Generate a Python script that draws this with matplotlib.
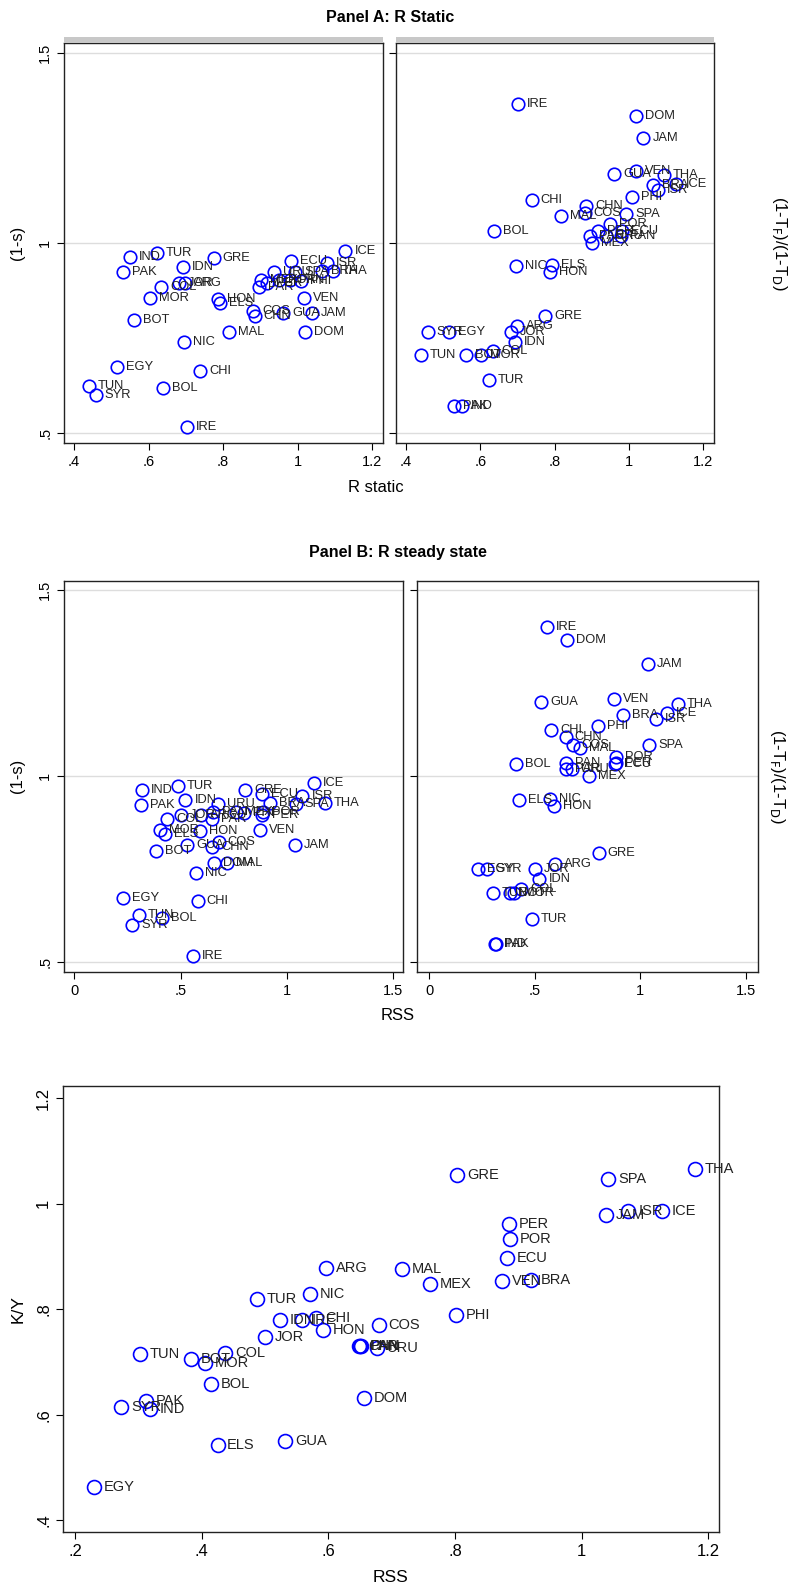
import matplotlib
matplotlib.use("Agg")
import matplotlib.pyplot as plt
from matplotlib.patches import Rectangle

plt.rcParams['font.family'] = ['Liberation Sans', 'DejaVu Sans']

countries = ["ARG","BOL","BOT","BRA","CHI","CHN","COL","COS","DOM","ECU","EGY","ELS","GRE",
             "GUA","HON","ICE","IDN","IND","IRE","ISR","JAM","JOR","MAL","MEX","MOR","NIC",
             "PAK","PAN","PAR","PER","PHI","POR","SPA","SYR","THA","TUN","TUR","URU","VEN"]
r_static = [.698,.638,.562,1.065,.738,.885,.633,.881,1.020,.981,.516,.792,.775,
            .961,.787,1.128,.692,.551,.702,1.078,1.039,.682,.817,.901,.603,.695,
            .530,.979,.896,.918,1.008,.949,.993,.458,1.094,.440,.622,.937,1.018]
one_minus_s = [.896,.619,.798,.927,.663,.809,.885,.822,.766,.952,.673,.843,.961,
               .815,.852,.980,.936,.963,.516,.947,.815,.896,.766,.903,.856,.740,
               .923,.903,.883,.896,.901,.904,.925,.599,.926,.625,.974,.925,.856]
tax_static = [.781,1.031,.706,1.152,1.114,1.096,.715,1.079,1.333,1.031,.766,.941,.807,
              1.182,.925,1.156,.739,.571,1.365,1.140,1.275,.767,1.070,1.0,.706,.940,
              .571,1.018,1.018,1.032,1.121,1.049,1.077,.766,1.178,.706,.639,1.018,1.189]
rss = [.596,.414,.383,.920,.580,.648,.437,.680,.656,.882,.230,.425,.804,
       .532,.591,1.127,.523,.319,.558,1.074,1.038,.500,.717,.760,.405,.571,
       .312,.651,.650,.886,.801,.887,1.042,.273,1.179,.303,.488,.677,.875]
tax_ss = [.763,1.032,.686,1.165,1.124,1.104,.697,1.082,1.365,1.032,.751,.935,.793,
          1.200,.919,1.169,.722,.547,1.400,1.154,1.300,.751,1.074,1.0,.686,.937,
          .547,1.034,1.018,1.034,1.133,1.052,1.083,.751,1.194,.686,.616,1.018,1.206]
k_y = [.878,.659,.705,.856,.784,.731,.717,.771,.632,.897,.464,.542,1.054,
       .551,.761,.987,.780,.611,.780,.987,.979,.748,.876,.847,.699,.829,
       .627,.731,.731,.962,.789,.934,1.046,.614,1.066,.715,.819,.726,.853]

W, H = 793, 1589
fig = plt.figure(figsize=(W/100, H/100), dpi=100)

def ax_px(l, t, r, b):
    return fig.add_axes([l/W, 1-b/H, (r-l)/W, (b-t)/H])

def scatter(ax, x, y, ms=9, fs=9.3, off=6.5):
    ax.plot(x, y, 'o', ms=ms, mfc='none', mec='blue', mew=1.2, ls='none', zorder=3)
    for xi, yi, c in zip(x, y, countries):
        ax.annotate(c, (xi, yi), xytext=(off, 0), textcoords='offset points',
                    va='center', ha='left', fontsize=fs, color='#222222', zorder=4)

def style(ax, xlim, ylim, xt, xtl, yt, ytl, grid=True, ylabels=True, fs=10.5):
    ax.set_xlim(*xlim); ax.set_ylim(*ylim)
    ax.set_xticks(xt); ax.set_xticklabels(xtl, fontsize=fs)
    ax.set_yticks(yt)
    if ylabels:
        ax.set_yticklabels(ytl, fontsize=fs, rotation=90, va='center')
    else:
        ax.set_yticklabels([])
        ax.tick_params(axis='y', length=0)
    if grid:
        for v in yt:
            ax.axhline(v, color='#dddddd', lw=1, zorder=1)
    for s in ax.spines.values():
        s.set_linewidth(1.0); s.set_color('#222222')
    ax.tick_params(length=5, width=0.8)

# Panel A
a1 = ax_px(64, 43, 383, 443)
a2 = ax_px(396, 43, 714, 443)
scatter(a1, r_static, one_minus_s)
scatter(a2, r_static, tax_static)
for ax, lab in ((a1, True), (a2, False)):
    style(ax, (.373, 1.229), (.474, 1.526), [.4, .6, .8, 1, 1.2], ['.4', '.6', '.8', '1', '1.2'],
          [.5, 1, 1.5], ['.5', '1', '1.5'], ylabels=lab)
for l, r in ((64, 383), (396, 714)):
    fig.patches.append(Rectangle((l/W, 1-43/H), (r-l)/W, 6/H, transform=fig.transFigure,
                                 facecolor='#c8c8c8', edgecolor='none'))
fig.text(390/W, 1-18/H, 'Panel A: R Static', ha='center', va='center', fontsize=11.5, fontweight='bold')
fig.text(376/W, 1-487/H, 'R static', ha='center', va='center', fontsize=12)
fig.text(18/W, 1-243/H, '(1-s)', ha='center', va='center', fontsize=12, rotation=90)
fig.text(780/W, 1-243/H, r'(1-T$_\mathrm{F}$)/(1-T$_\mathrm{D}$)', ha='center', va='center',
         fontsize=12, rotation=-90)

# Panel B
b1 = ax_px(64, 581, 403, 972)
b2 = ax_px(417, 581, 758, 972)
scatter(b1, rss, one_minus_s)
scatter(b2, rss, tax_ss)
style(b1, (-.049, 1.548), (.473, 1.524), [0, .5, 1, 1.5], ['0', '.5', '1', '1.5'],
      [.5, 1, 1.5], ['.5', '1', '1.5'])
style(b2, (-.057, 1.559), (.473, 1.524), [0, .5, 1, 1.5], ['0', '.5', '1', '1.5'],
      [.5, 1, 1.5], ['.5', '1', '1.5'], ylabels=False)
fig.text(398/W, 1-553/H, 'Panel B: R steady state', ha='center', va='center', fontsize=11.5, fontweight='bold')
fig.text(398/W, 1-1016/H, 'RSS', ha='center', va='center', fontsize=12)
fig.text(18/W, 1-776/H, '(1-s)', ha='center', va='center', fontsize=12, rotation=90)
fig.text(778/W, 1-776/H, r'(1-T$_\mathrm{F}$)/(1-T$_\mathrm{D}$)', ha='center', va='center',
         fontsize=12, rotation=-90)

# Bottom panel
c = ax_px(63, 1086, 719, 1532)
scatter(c, rss, k_y, ms=10, fs=10.5, off=7)
style(c, (.181, 1.217), (.378, 1.223), [.2, .4, .6, .8, 1, 1.2], ['.2', '.4', '.6', '.8', '1', '1.2'],
      [.4, .6, .8, 1, 1.2], ['.4', '.6', '.8', '1', '1.2'], grid=False, fs=12)
fig.text(391/W, 1-1578/H, 'RSS', ha='center', va='center', fontsize=12.5)
fig.text(18/W, 1-1309/H, 'K/Y', ha='center', va='center', fontsize=12.5, rotation=90)

fig.savefig('out.png', dpi=100, facecolor='white')
